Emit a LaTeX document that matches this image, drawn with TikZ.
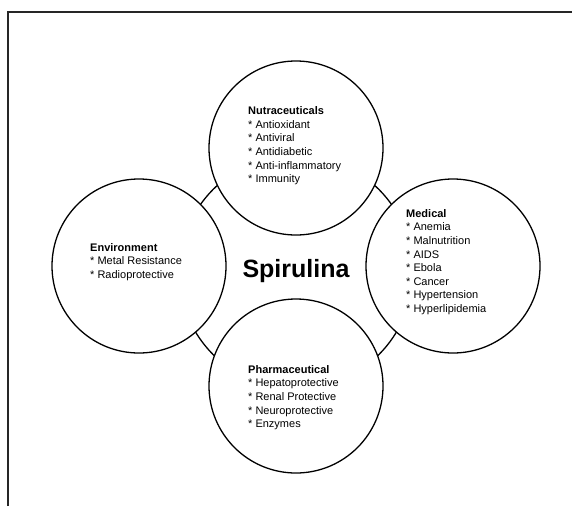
\documentclass[tikz,border=0pt]{standalone}
\usepackage{fontspec}
\setmainfont{Liberation Sans}
\begin{document}
\begin{tikzpicture}[x=1pt,y=-1pt,
  topic/.style={circle, draw=black, line width=1.3pt, fill=white, minimum size=174pt, inner sep=0pt},
  ring/.style={draw=black, line width=1.3pt},
  frameline/.style={draw=black!85, line width=1.6pt},
  blocktext/.style={anchor=base west, align=left, inner sep=0pt, font=\fontsize{11}{13.6}\selectfont},
  titletext/.style={anchor=base, inner sep=0pt, font=\fontsize{25}{30}\selectfont\bfseries}]
\useasboundingbox (0,0) rectangle (572,506);
\draw[frameline] (8,506) -- (8,12) -- (572,12);
\coordinate (mid) at (296,272);
\draw[ring] (mid) circle [radius=117];
\node[topic] (nutra) at (296,148) {};
\node[topic] (medical) at (453,266) {};
\node[topic] (env) at (139,266) {};
\node[topic] (pharma) at (296,386) {};
\node[titletext] (spir) at (296,277) {Spirulina};
% base anchor of a multi-line node is the baseline of its last line
\node[blocktext] (tnutra) at (248,182.6) {\textbf{Nutraceuticals}\\* Antioxidant\\* Antiviral\\* Antidiabetic\\* Anti-inflammatory\\* Immunity};
\node[blocktext] (tmed) at (406,312.5) {\textbf{Medical}\\* Anemia\\* Malnutrition\\* AIDS\\* Ebola\\* Cancer\\* Hypertension\\* Hyperlipidemia};
\node[blocktext] (tenv) at (90,278.5) {\textbf{Environment}\\* Metal Resistance\\* Radioprotective};
\node[blocktext] (tpharma) at (248,427.7) {\textbf{Pharmaceutical}\\* Hepatoprotective\\* Renal Protective\\* Neuroprotective\\* Enzymes};
\end{tikzpicture}
\end{document}
